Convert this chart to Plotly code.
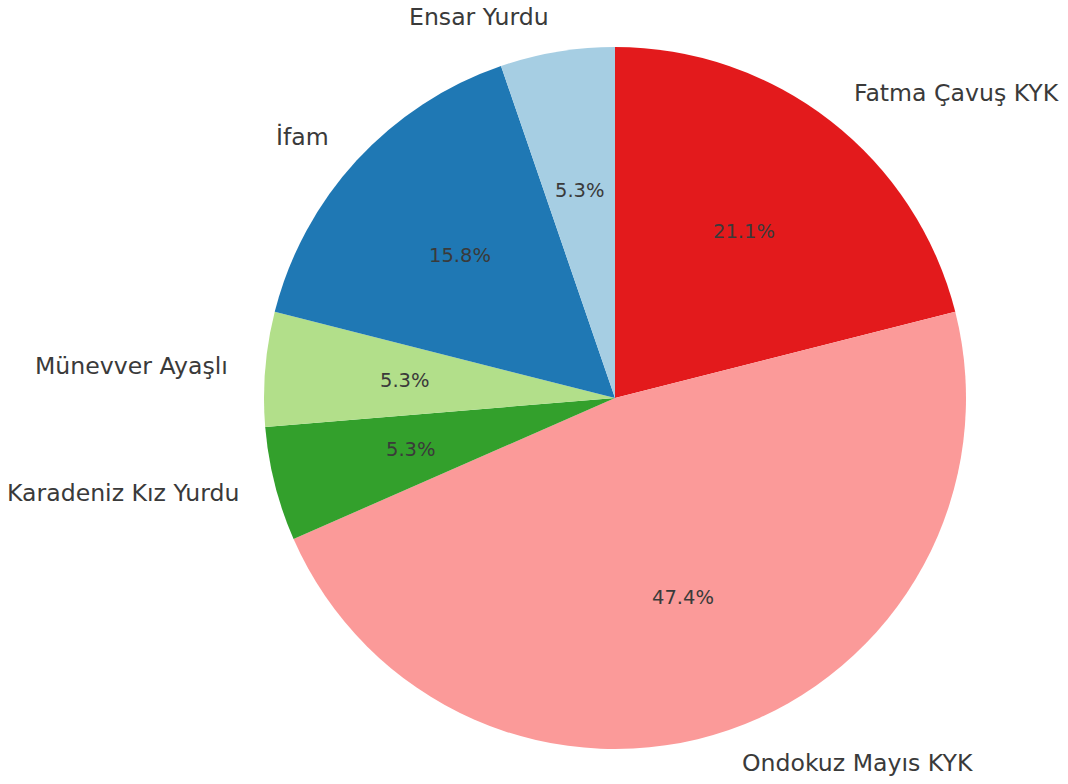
import math
import plotly.graph_objects as go

# slices listed clockwise from 12 o'clock
labels = ["Fatma Çavuş KYK", "Ondokuz Mayıs KYK", "Karadeniz Kız Yurdu", "Münevver Ayaşlı", "İfam", "Ensar Yurdu"]
values = [4, 9, 1, 1, 3, 1]
colors = ["#e31a1c", "#fb9a99", "#33a02c", "#b2df8a", "#1f78b4", "#a6cee3"]

W, H = 1068, 784
cx, cy, R = 615, 398, 351  # pixel geometry of the pie

fig = go.Figure(go.Pie(
    labels=labels, values=values, sort=False,
    direction="clockwise", rotation=0,
    marker=dict(colors=colors, line=dict(width=0)),
    textinfo="none", hoverinfo="label+percent",
    domain=dict(x=[(cx - R) / W, (cx + R) / W], y=[(H - cy - R) / H, (H - cy + R) / H]),
    showlegend=False,
))

total = sum(values)
start = 90.0
annotations = []
for lab, v in zip(labels, values):
    span = 360.0 * v / total
    mid = math.radians(start - span / 2)
    start -= span
    # outer label
    lx = cx + 1.1 * R * math.cos(mid)
    ly = cy - 1.1 * R * math.sin(mid)
    annotations.append(dict(
        x=lx / W, y=1 - ly / H, xref="paper", yref="paper", text=lab, showarrow=False,
        xanchor="left" if math.cos(mid) > 0 else "right", yanchor="middle",
        font=dict(family="DejaVu Sans", size=23.6, color="#3a3a3a")))
    # percent label
    px = cx + 0.6 * R * math.cos(mid)
    py = cy - 0.6 * R * math.sin(mid)
    annotations.append(dict(
        x=px / W, y=1 - py / H, xref="paper", yref="paper",
        text=f"{100 * v / total:.1f}%", showarrow=False,
        xanchor="center", yanchor="middle",
        font=dict(family="DejaVu Sans", size=19.5, color="#3a3a3a")))

fig.update_layout(
    width=W, height=H, margin=dict(l=0, r=0, t=0, b=0),
    paper_bgcolor="white", plot_bgcolor="white",
    annotations=annotations,
)
fig.write_html("out.html", config={"displayModeBar": False},
               post_script="document.body.style.margin='0';")
